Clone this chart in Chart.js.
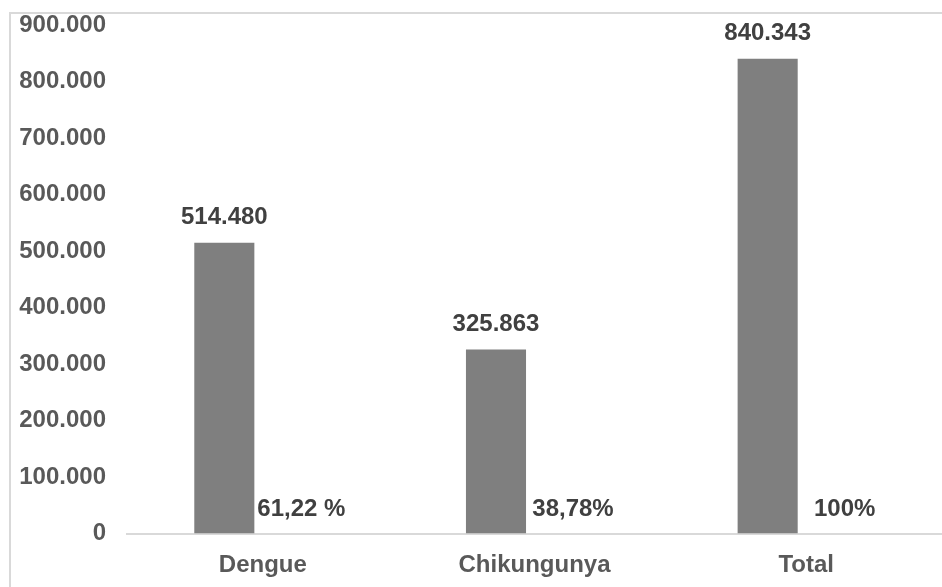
<!DOCTYPE html>
<html>
<head>
<meta charset="utf-8">
<script src="https://cdn.jsdelivr.net/npm/chart.js@4/dist/chart.umd.min.js"></script>
<style>
  html, body { margin: 0; padding: 0; background: #fff; overflow: hidden; }
  #wrap { position: relative; width: 942px; height: 587px; overflow: hidden; }
  #frame { position: absolute; left: 9px; top: 12px; width: 1000px; height: 700px; border: 2px solid #d9d9d9; box-sizing: border-box; }
  canvas { position: absolute; left: 0; top: 0; }
</style>
</head>
<body>
<div id="wrap">
  <div id="frame"></div>
  <canvas id="chart" width="942" height="587"></canvas>
</div>
<script>
const categories = ["Dengue", "Chikungunya", "Total"];
const cases = [514480, 325863, 840343];
const shares = [61.22, 38.78, 100];
const shareLabels = ["61,22 %", "38,78%", "100%"];
const yMin = 0, yMax = 900000, yStep = 100000;

const FONT = "'Liberation Sans', Arial, sans-serif";

// thousands with a dot, as in the source
function fmt(v) {
  return String(v).replace(/\B(?=(\d{3})+(?!\d))/g, ".");
}

const barLabels = {
  id: "barLabels",
  afterDatasetsDraw(chart) {
    const ctx = chart.ctx;
    ctx.save();
    ctx.font = "bold 24px " + FONT;
    ctx.fillStyle = "#404040";
    ctx.textAlign = "center";
    ctx.textBaseline = "middle";
    chart.getDatasetMeta(0).data.forEach((bar, i) => {
      ctx.fillText(fmt(cases[i]), bar.x, bar.y - 25);
    });
    chart.getDatasetMeta(1).data.forEach((bar, i) => {
      ctx.fillText(shareLabels[i], bar.x, bar.y - 24);
    });
    ctx.restore();
  }
};

new Chart(document.getElementById("chart").getContext("2d"), {
  type: "bar",
  data: {
    labels: categories,
    datasets: [
      {
        label: "Casos",
        data: cases,
        backgroundColor: "#7f7f7f",
        categoryPercentage: 0.567,
        barPercentage: 0.78
      },
      {
        label: "%",
        data: shares,
        backgroundColor: "rgba(0,0,0,0)",
        categoryPercentage: 0.567,
        barPercentage: 0.78
      }
    ]
  },
  options: {
    responsive: false,
    animation: false,
    layout: { padding: { top: 25, right: 0, bottom: 0, left: 0 } },
    plugins: { legend: { display: false }, tooltip: { enabled: false } },
    scales: {
      x: {
        grid: { display: false, drawTicks: false },
        border: { display: true, color: "#d9d9d9", width: 2 },
        ticks: { color: "#595959", font: { family: FONT, size: 24, weight: "bold" }, padding: 17 },
        afterFit(scale) { scale.height = 53.5; }
      },
      y: {
        min: yMin,
        max: yMax,
        grid: { display: false, drawTicks: false },
        border: { display: false },
        ticks: {
          stepSize: yStep,
          color: "#595959",
          font: { family: FONT, size: 24, weight: "bold" },
          padding: 21,
          callback: (v) => fmt(v)
        },
        afterFit(scale) {
          scale.width = 127;
          scale.paddingTop = 10;
          scale.paddingBottom = 10;
        }
      }
    }
  },
  plugins: [barLabels]
});
</script>
</body>
</html>
